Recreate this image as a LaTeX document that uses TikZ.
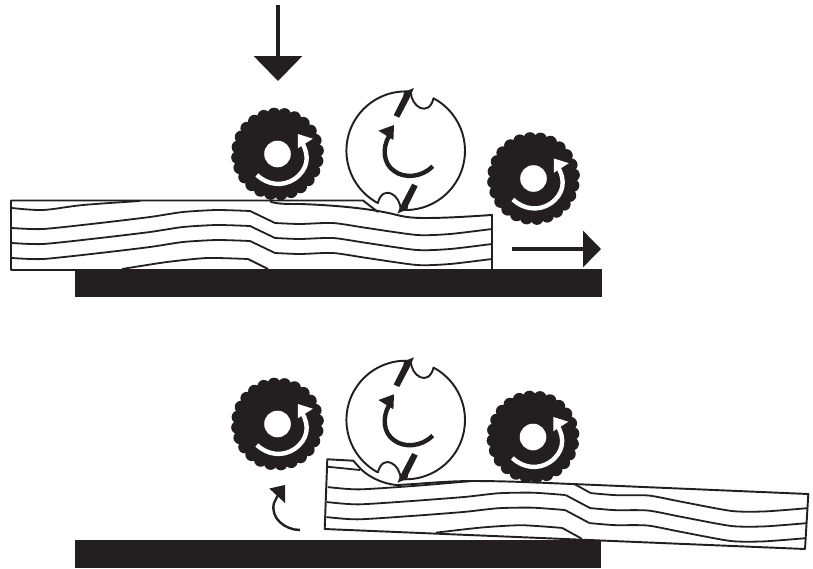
\documentclass[tikz,border=0pt]{standalone}
\usepackage{tikz}
\usetikzlibrary{arrows.meta}
\usepackage{xcolor}
\definecolor{inkblack}{RGB}{35,31,32}
\newcommand{\grainrows}{
  \foreach \dy in {-15,-30} {
    \draw[grainline, shift={(0,\dy)}] plot[smooth, tension=.4] coordinates {(12,-228) (43,-229) (100,-223) (150,-217) (183,-212) (217,-210) (250,-211)};
    \draw[grainline, shift={(0,\dy)}] (250,-211) -- (275,-223);
    \draw[grainline, shift={(0,\dy)}] plot[smooth, tension=.4] coordinates {(275,-223) (300,-224) (333,-223) (367,-228) (417,-235) (450,-234) (492,-229)};
  }
  \draw[grainline] plot[smooth, tension=.4] coordinates {(122,-269) (167,-262) (207,-258) (248,-259)};
  \draw[grainline] (248,-259) -- (268,-269);
}
\begin{document}
\begin{tikzpicture}[
  x=0.75pt, y=0.75pt,
  outline/.style={draw=inkblack, line width=1.45pt, line join=round},
  grainline/.style={draw=inkblack, line width=1.35pt},
  solid black/.style={fill=inkblack, draw=none},
  downarr/.style={-{Triangle[length=18.75pt, width=36pt]}, draw=inkblack, fill=inkblack, line width=2.8pt},
  rightarr/.style={-{Triangle[length=13.5pt, width=27pt]}, draw=inkblack, fill=inkblack, line width=2.4pt},
  gear/.pic={
    \fill[inkblack] (0,0) circle (40.5);
    \foreach \a in {0,15,...,345} {
      \fill[inkblack] (\a+5:40) circle (6.5);
    }
    \fill[white] (0,0) circle (13.3);
    \draw[white, line width=3.3pt] (-20.7,-21) .. controls (-10,-31) and (5,-33) .. (17,-25) .. controls (30,-16) and (33,-2) .. (24,12);
    \fill[white] (20.3,20) -- (35.3,15.3) -- (20.3,5.7) -- cycle;
  },
  cutter/.pic={
    \foreach \a in {0,180} {
      \begin{scope}[rotate=\a]
        \draw[outline] (85:59.3) .. controls (5,44) and (23,33) .. (62:59.3) arc[start angle=62, end angle=-95, radius=59.3];
        \fill[inkblack] (-12,35.5) -- (-2.5,54.5) -- (-1.7,58.7) -- (8.3,62.7) -- (3.5,52) -- (-6.5,33) -- cycle;
      \end{scope}
    }
    \draw[inkblack, line width=3.3pt] (27,-15.5) .. controls (16,-27) and (-2,-28) .. (-12,-20) .. controls (-22,-13) and (-24,2) .. (-16.5,15);
    \fill[inkblack] (-27.3,20) -- (-11.7,25.7) -- (-12.3,10.7) -- cycle;
  }
]
\useasboundingbox (0,0) rectangle (813,-568);

\draw[grainline] plot[smooth, tension=.5] coordinates {(12,-208) (43,-210) (83,-205) (140,-201)};
\draw[grainline] plot[smooth, tension=.4] coordinates {(12,-228) (43,-229) (100,-223) (150,-217) (183,-212) (217,-210) (250,-211)};
\draw[grainline] (250,-211) -- (275,-223);
\draw[grainline] plot[smooth, tension=.4] coordinates {(275,-223) (300,-224) (333,-223) (367,-228) (417,-235) (450,-234) (492,-229)};
\grainrows
\draw[outline] (75,-270) -- (11,-270) -- (11,-200.5) -- (363,-200.5) -- (378,-212);
\draw[outline] (270,-201.5) .. controls (277,-204) and (285,-204) .. (300,-204) .. controls (330,-205) and (370,-208) .. (397,-215) .. controls (405,-217) and (412,-218) .. (425,-218) .. controls (450,-218) and (475,-216) .. (492,-215) -- (492,-270);
\fill[solid black] (75,-269) rectangle (602,-296.5);
\draw[downarr] (278,-5) -- (278,-81);
\draw[rightarr] (512,-249) -- (601,-249);
\pic at (277.5,-154) {gear};
\pic at (405.7,-150.7) {cutter};
\pic at (533.5,-178.5) {gear};

\fill[solid black] (75,-540) rectangle (601,-567.5);
\begin{scope}[shift={(325,-529)}, rotate=-2.4, shift={(-11,270)}]
  \draw[grainline] plot[smooth, tension=.4] coordinates {(12,-228) (43,-229) (100,-223) (155,-216)};
  \draw[grainline] (259,-215) -- (275,-223);
  \draw[grainline] plot[smooth, tension=.4] coordinates {(275,-223) (300,-224) (333,-223) (367,-228) (417,-235) (450,-234) (492,-229)};
  \grainrows
\end{scope}
\draw[grainline] (327,-466.7) -- (360,-470);
\draw[outline] (324.7,-529) -- (327.3,-459.3) -- (353.3,-460.7) -- (361.7,-470) .. controls (372,-479) and (385,-484) .. (396.7,-485) .. controls (420,-484) and (445,-481) .. (473.3,-481) .. controls (510,-481) and (545,-483) .. (580,-484.3) -- (808.3,-494) -- (805,-549) -- cycle;
\draw[inkblack, line width=1.8pt] (300,-530) .. controls (285,-530) and (270,-518) .. (274,-503) -- (278,-495);
\fill[inkblack] (269.3,-488.5) -- (285,-485) -- (285,-503) -- cycle;
\pic at (277.5,-424) {gear};
\pic at (405.7,-420) {cutter};
\pic at (533,-437) {gear};
\end{tikzpicture}
\end{document}
